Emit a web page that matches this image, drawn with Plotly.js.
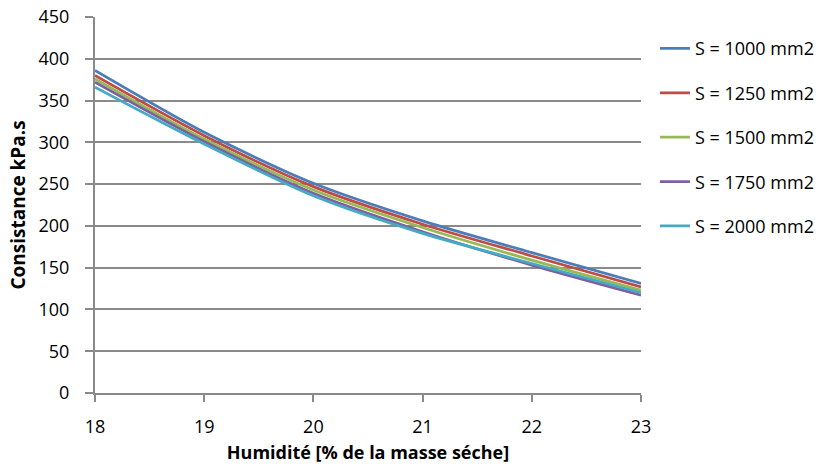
<!DOCTYPE html>
<html>
<head>
<meta charset="utf-8">
<script src="https://cdn.plot.ly/plotly-3.0.1.min.js"></script>
<style>html,body{margin:0;padding:0;background:#fff;}#chart{width:824px;height:464px;}</style>
</head>
<body>
<div id="chart"></div>
<script>
const humidite = [18, 19, 20, 21, 22, 23];
const seriesNames = ["S = 1000 mm2", "S = 1250 mm2", "S = 1500 mm2", "S = 1750 mm2", "S = 2000 mm2"];
const s1000 = [386, 312, 251, 206, 168, 131];
const s1250 = [380, 308, 247, 202, 164, 127];
const s1500 = [376, 304, 243, 198, 159, 123];
const s1750 = [372, 301, 239, 193, 153, 117];
const s2000 = [366, 298, 236, 191, 155, 120];
const colors = ["#4A7EBB", "#BE4B48", "#98B954", "#7D60A0", "#46AAC5"];

const allSeries = [s1000, s1250, s1500, s1750, s2000];
const traces = allSeries.map((ys, i) => ({
  x: humidite, y: ys, name: seriesNames[i], type: "scatter", mode: "lines",
  line: {color: colors[i], width: 2.75, shape: "spline", smoothing: 0.8},
  legendgroup: "g" + i
}));

const font = {family: "Open Sans, Liberation Sans, sans-serif", size: 18, color: "#000"};
const layout = {
  width: 824, height: 464,
  margin: {l: 95, r: 183, t: 17, b: 71, autoexpand: false},
  paper_bgcolor: "#fff", plot_bgcolor: "#fff",
  font: font,
  showlegend: true,
  legend: {x: 1.0256, xanchor: "left", y: 0.965, yanchor: "top", tracegroupgap: 18,
           font: {family: "Open Sans, sans-serif", size: 18, color: "#000"}, bgcolor: "rgba(0,0,0,0)"},
  xaxis: {
    range: [18, 23], tickvals: humidite, ticktext: humidite.map(String),
    showgrid: false, zeroline: false,
    showline: true, linecolor: "#8a8a8a", linewidth: 2,
    ticks: "outside", ticklen: 7, tickwidth: 2, tickcolor: "#8a8a8a",
    tickfont: {size: 18}, ticklabelstandoff: 9,
    title: {text: "<b>Humidité [% de la masse séche]</b>", font: {size: 18}, standoff: 10}
  },
  yaxis: {
    range: [0, 450], dtick: 50, tick0: 0,
    showgrid: true, gridcolor: "#8a8a8a", gridwidth: 2,
    zeroline: false,
    showline: true, linecolor: "#8a8a8a", linewidth: 2,
    ticks: "outside", ticklen: 8, tickwidth: 2, tickcolor: "#8a8a8a",
    tickfont: {size: 18}, ticklabelstandoff: 12,
    title: {text: "<b>Consistance kPa.s</b>", font: {size: 19}, standoff: 8}
  }
};
Plotly.newPlot("chart", traces, layout, {displayModeBar: false, staticPlot: true});
</script>
</body>
</html>
